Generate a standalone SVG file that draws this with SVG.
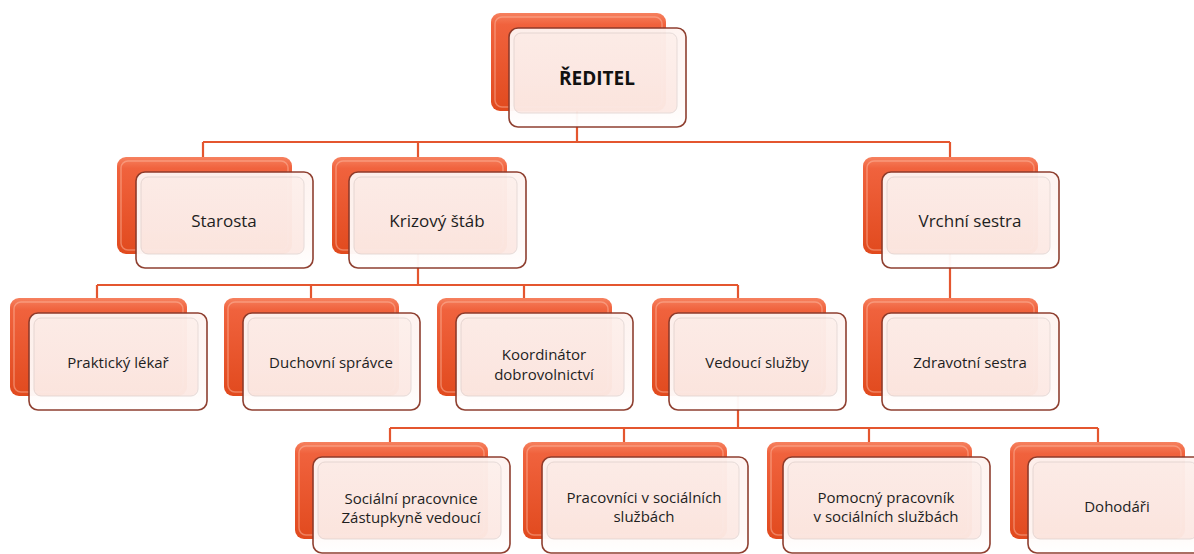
<svg xmlns="http://www.w3.org/2000/svg" width="1194" height="554" viewBox="0 0 1194 554">
  <defs>
    <linearGradient id="gBack" x1="0" y1="0" x2="0" y2="1">
      <stop offset="0" stop-color="#F6815F"/>
      <stop offset="0.12" stop-color="#F0623D"/>
      <stop offset="1" stop-color="#E14A1E"/>
    </linearGradient>
    <linearGradient id="gFront" x1="0" y1="0" x2="0" y2="1">
      <stop offset="0" stop-color="#FEF3F0"/>
      <stop offset="0.75" stop-color="#FFF9F7"/>
      <stop offset="1" stop-color="#FFFFFF"/>
    </linearGradient>
    <linearGradient id="gPanel" x1="0" y1="0" x2="0" y2="1">
      <stop offset="0" stop-color="#FDF0EC"/>
      <stop offset="1" stop-color="#FCE9E4"/>
    </linearGradient>
  </defs>
  <style>
    .wire { fill: none; stroke: #E4562F; stroke-width: 2.2; }
    .back { fill: url(#gBack); }
    .backHi { fill: none; stroke: #FFC4AE; stroke-opacity: 0.45; stroke-width: 1.5; }
    .front { opacity: 0.97; }
    .frontBox { fill: url(#gFront); stroke: #8C3A2A; stroke-width: 1.6; }
    .panel { fill: url(#gPanel); stroke: #E6DAD7; stroke-width: 1; }
    .lbl { font-family: "Open Sans", "Liberation Sans", sans-serif; fill: #1E1E1E; text-anchor: middle; }
    .r1 { font-size: 19px; font-weight: bold; fill: #111; }
    .r2 { font-size: 17px; }
    .r3 { font-size: 15px; }
  </style>

  <!-- connectors -->
  <g id="connectors">
    <path class="wire" d="M577,111 V142 M203,142 H950 M203,142 V157 M418,142 V157 M950,142 V157"/>
    <path class="wire" d="M418,254 V285 M97,285 H738 M97,285 V298 M311,285 V298 M524,285 V298 M738,285 V298"/>
    <path class="wire" d="M950,254 V298"/>
    <path class="wire" d="M738,396 V428 M390,428 H1098 M390,428 V442 M624,428 V442 M869,428 V442 M1098,428 V442"/>
  </g>

  <!-- level 1 -->
  <g id="node-reditel">
    <rect class="back" x="491" y="13" width="175" height="98" rx="9"/>
    <rect class="backHi" x="495" y="17" width="167" height="90" rx="7"/>
    <g class="front">
      <rect class="frontBox" x="509" y="28" width="177" height="99" rx="9"/>
      <rect class="panel" x="514" y="33" width="163" height="80" rx="7"/>
    </g>
    <text class="lbl r1" x="597" y="85">ŘEDITEL</text>
  </g>

  <!-- level 2 -->
  <g id="node-starosta">
    <rect class="back" x="117" y="157" width="175" height="97" rx="9"/>
    <rect class="backHi" x="121" y="161" width="167" height="89" rx="7"/>
    <g class="front">
      <rect class="frontBox" x="136" y="172" width="177" height="96" rx="9"/>
      <rect class="panel" x="141" y="177" width="163" height="77" rx="7"/>
    </g>
    <text class="lbl r2" x="224" y="227">Starosta</text>
  </g>

  <g id="node-krizovy-stab">
    <rect class="back" x="332" y="157" width="175" height="97" rx="9"/>
    <rect class="backHi" x="336" y="161" width="167" height="89" rx="7"/>
    <g class="front">
      <rect class="frontBox" x="349" y="172" width="177" height="96" rx="9"/>
      <rect class="panel" x="354" y="177" width="163" height="77" rx="7"/>
    </g>
    <text class="lbl r2" x="437" y="227">Krizový štáb</text>
  </g>

  <g id="node-vrchni-sestra">
    <rect class="back" x="863" y="157" width="175" height="97" rx="9"/>
    <rect class="backHi" x="867" y="161" width="167" height="89" rx="7"/>
    <g class="front">
      <rect class="frontBox" x="882" y="172" width="177" height="96" rx="9"/>
      <rect class="panel" x="887" y="177" width="163" height="77" rx="7"/>
    </g>
    <text class="lbl r2" x="970" y="227">Vrchní sestra</text>
  </g>

  <!-- level 3 -->
  <g id="node-prakticky-lekar">
    <rect class="back" x="10" y="298" width="177" height="98" rx="9"/>
    <rect class="backHi" x="14" y="302" width="169" height="90" rx="7"/>
    <g class="front">
      <rect class="frontBox" x="29" y="313" width="178" height="97" rx="9"/>
      <rect class="panel" x="34" y="318" width="164" height="78" rx="7"/>
    </g>
    <text class="lbl r3" x="118" y="368">Praktický lékař</text>
  </g>

  <g id="node-duchovni-spravce">
    <rect class="back" x="224" y="298" width="175" height="98" rx="9"/>
    <rect class="backHi" x="228" y="302" width="167" height="90" rx="7"/>
    <g class="front">
      <rect class="frontBox" x="243" y="313" width="177" height="97" rx="9"/>
      <rect class="panel" x="248" y="318" width="163" height="78" rx="7"/>
    </g>
    <text class="lbl r3" x="331" y="368">Duchovní správce</text>
  </g>

  <g id="node-koordinator">
    <rect class="back" x="437" y="298" width="175" height="98" rx="9"/>
    <rect class="backHi" x="441" y="302" width="167" height="90" rx="7"/>
    <g class="front">
      <rect class="frontBox" x="456" y="313" width="177" height="97" rx="9"/>
      <rect class="panel" x="461" y="318" width="163" height="78" rx="7"/>
    </g>
    <text class="lbl r3" x="544" y="360">Koordinátor</text>
    <text class="lbl r3" x="544" y="380">dobrovolnictví</text>
  </g>

  <g id="node-vedouci-sluzby">
    <rect class="back" x="652" y="298" width="174" height="98" rx="9"/>
    <rect class="backHi" x="656" y="302" width="166" height="90" rx="7"/>
    <g class="front">
      <rect class="frontBox" x="669" y="313" width="177" height="97" rx="9"/>
      <rect class="panel" x="674" y="318" width="163" height="78" rx="7"/>
    </g>
    <text class="lbl r3" x="757" y="368">Vedoucí služby</text>
  </g>

  <g id="node-zdravotni-sestra">
    <rect class="back" x="863" y="298" width="175" height="98" rx="9"/>
    <rect class="backHi" x="867" y="302" width="167" height="90" rx="7"/>
    <g class="front">
      <rect class="frontBox" x="882" y="313" width="177" height="97" rx="9"/>
      <rect class="panel" x="887" y="318" width="163" height="78" rx="7"/>
    </g>
    <text class="lbl r3" x="970" y="368">Zdravotní sestra</text>
  </g>

  <!-- level 4 -->
  <g id="node-socialni-pracovnice">
    <rect class="back" x="295" y="442" width="193" height="97" rx="9"/>
    <rect class="backHi" x="299" y="446" width="185" height="89" rx="7"/>
    <g class="front">
      <rect class="frontBox" x="313" y="457" width="197" height="96" rx="9"/>
      <rect class="panel" x="318" y="462" width="183" height="77" rx="7"/>
    </g>
    <text class="lbl r3" x="411" y="504">Sociální pracovnice</text>
    <text class="lbl r3" x="411" y="523">Zástupkyně vedoucí</text>
  </g>

  <g id="node-pracovnici">
    <rect class="back" x="523" y="442" width="204" height="97" rx="9"/>
    <rect class="backHi" x="527" y="446" width="196" height="89" rx="7"/>
    <g class="front">
      <rect class="frontBox" x="542" y="457" width="206" height="96" rx="9"/>
      <rect class="panel" x="547" y="462" width="192" height="77" rx="7"/>
    </g>
    <text class="lbl r3" x="644" y="503">Pracovníci v sociálních</text>
    <text class="lbl r3" x="644" y="522">službách</text>
  </g>

  <g id="node-pomocny-pracovnik">
    <rect class="back" x="767" y="442" width="205" height="97" rx="9"/>
    <rect class="backHi" x="771" y="446" width="197" height="89" rx="7"/>
    <g class="front">
      <rect class="frontBox" x="783" y="457" width="207" height="96" rx="9"/>
      <rect class="panel" x="788" y="462" width="193" height="77" rx="7"/>
    </g>
    <text class="lbl r3" x="886" y="503">Pomocný pracovník</text>
    <text class="lbl r3" x="886" y="522">v sociálních službách</text>
  </g>

  <g id="node-dohodari">
    <rect class="back" x="1010" y="442" width="175" height="97" rx="9"/>
    <rect class="backHi" x="1014" y="446" width="167" height="89" rx="7"/>
    <g class="front">
      <rect class="frontBox" x="1028" y="457" width="178" height="96" rx="9"/>
      <rect class="panel" x="1033" y="462" width="164" height="77" rx="7"/>
    </g>
    <text class="lbl r3" x="1117" y="512">Dohodáři</text>
  </g>
</svg>
